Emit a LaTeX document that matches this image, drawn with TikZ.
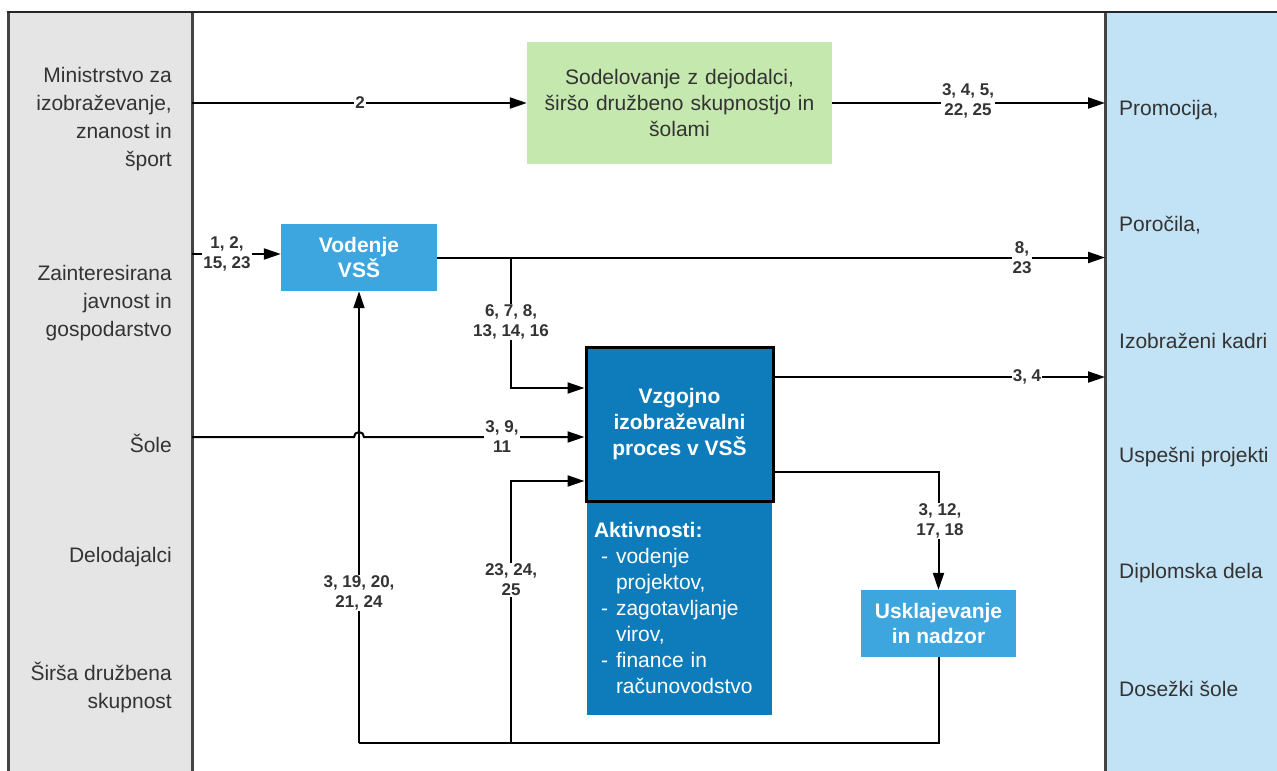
\documentclass[tikz,border=0pt]{standalone}
\usepackage{fontspec}
\setmainfont{Liberation Sans}
\usetikzlibrary{arrows.meta}
\definecolor{txt}{HTML}{333333}
\definecolor{leftgray}{HTML}{E5E5E5}
\definecolor{rightblue}{HTML}{C2E3F5}
\definecolor{lgreen}{HTML}{C5E8AE}
\definecolor{midblue}{HTML}{3EA6DE}
\definecolor{darkblue}{HTML}{0E7CBA}
\definecolor{framegray}{HTML}{444444}
\tikzset{
  sidetxt/.style={text=txt, font=\fontsize{21}{28}\selectfont, inner sep=0pt},
  boxtxt/.style={font=\fontsize{21}{26}\selectfont, align=center, inner sep=0pt},
  lbl/.style={text=txt, font=\fontsize{17}{20}\selectfont\bfseries, fill=white, inner sep=1pt, align=center},
  arr/.style={draw=black, line width=2pt, -{Triangle[length=17pt,width=11pt]}},
  con/.style={draw=black, line width=2pt},
}
\begin{document}
\begin{tikzpicture}[x=1pt,y=-1pt]
\useasboundingbox (0,0) rectangle (1277,771);
% columns
\fill[leftgray] (8,12) rectangle (192,775);
\fill[rightblue] (1105,12) rectangle (1280,775);
\draw[framegray, line width=3pt] (8,775) -- (8,12);
\draw[framegray, line width=3pt] (192,775) -- (192,12);
\draw[framegray, line width=3pt] (1105,775) -- (1105,12);
\draw[black!85, line width=2.5pt] (6.5,12) -- (1280,12);
% left texts
\node[sidetxt, anchor=east, align=right] (t1) at (172,119) {Ministrstvo za\\izobraževanje,\\znanost in\\šport};
\node[sidetxt, anchor=east, align=right] (t2) at (172,303) {Zainteresirana\\javnost in\\gospodarstvo};
\node[sidetxt, anchor=east, align=right] (t3) at (172,443) {Šole};
\node[sidetxt, anchor=east, align=right] (t4) at (172,557) {Delodajalci};
\node[sidetxt, anchor=east, align=right] (t5) at (172,687) {Širša družbena\\skupnost};
% right texts
\node[sidetxt, anchor=west] (r1) at (1119,110) {Promocija,};
\node[sidetxt, anchor=west] (r2) at (1119,225) {Poročila,};
\node[sidetxt, anchor=west] (r3) at (1119,341) {Izobraženi kadri};
\node[sidetxt, anchor=west] (r4) at (1119,457) {Uspešni projekti};
\node[sidetxt, anchor=west] (r5) at (1119,573) {Diplomska dela};
\node[sidetxt, anchor=west] (r6) at (1119,689) {Dosežki šole};
% boxes
\node[boxtxt, fill=lgreen, text=txt, minimum width=305pt, minimum height=122pt, text width=290pt] (coop) at (679.5,103) {Sodelovanje z dejodalci,\\širšo družbeno skupnostjo in\\šolami};
\node[boxtxt, fill=midblue, text=white, font=\fontsize{21}{25}\selectfont\bfseries, minimum width=156pt, minimum height=67pt] (vod) at (359,257.5) {Vodenje\\VSŠ};
\node[fill=darkblue, text=white, font=\fontsize{21}{26}\selectfont, align=left, text width=171pt, inner xsep=7pt, inner ysep=0pt, minimum width=185pt, minimum height=214pt] (akt) at (679.5,608) {\textbf{Aktivnosti:}\\\hspace*{7pt}\makebox[15pt][l]{-}vodenje\\\hspace*{22pt}projektov,\\\hspace*{7pt}\makebox[15pt][l]{-}zagotavljanje\\\hspace*{22pt}virov,\\\hspace*{7pt}\makebox[15pt][l]{-}finance in\\\hspace*{22pt}računovodstvo};
\node[boxtxt, fill=darkblue, draw=black, line width=3pt, text=white, font=\fontsize{21}{26}\selectfont\bfseries, minimum width=187pt, minimum height=154pt] (proc) at (679.5,424) {Vzgojno\\izobraževalni\\proces v VSŠ};
\node[boxtxt, fill=midblue, text=white, font=\fontsize{21}{25}\selectfont\bfseries, minimum width=155pt, minimum height=67pt] (usk) at (938.5,623.5) {Usklajevanje\\in nadzor};
% coordinates
\coordinate (mIn) at (192,103);
\coordinate (pOut) at (1105,103);
\coordinate (zIn) at (192,254);
\coordinate (rOut) at (1105,257.5);
\coordinate (br) at (511,257.5);
\coordinate (brd) at (511,388);
\coordinate (sIn) at (192,437);
\coordinate (jmp) at (354,437);
\coordinate (b1) at (511,743);
\coordinate (b1u) at (511,481);
\coordinate (b0) at (359,743);
\coordinate (bR) at (938.5,743);
\coordinate (kOut) at (1105,377);
\coordinate (p2) at (773,472);
% connectors
\draw[arr] (mIn) -- (coop.west);
\draw[arr] (coop.east) -- (pOut);
\draw[arr] (zIn) -- (vod.west |- zIn);
\draw[arr] (vod.east) -- (rOut);
\draw[arr] (br) -- (brd) -- (proc.west |- brd);
\draw[arr] (sIn) -- (jmp) arc[start angle=180, end angle=360, radius=5] -- (proc.west |- sIn);
\draw[arr] (b1) -- (b1u) -- (proc.west |- b1u);
\draw[arr] (b0) -- (vod.south);
\draw[con] (b0) -- (bR) -- (usk.south);
\draw[arr] (proc.east |- kOut) -- (kOut);
\draw[arr] (p2) -| (usk.north);
% labels
\node[lbl] (l2) at (360,103) {2};
\node[lbl] (l345) at (968,101) {3, 4, 5,\\22, 25};
\node[lbl] (l12) at (227,254) {1, 2,\\15, 23};
\node[lbl] (l823) at (1022,257.5) {8,\\23};
\node[lbl] (l678) at (511,322) {6, 7, 8,\\13, 14, 16};
\node[lbl] (l39) at (502,437) {3, 9,\\11};
\node[lbl] (l2324) at (511,580) {23, 24,\\25};
\node[lbl] (l319) at (359,593) {3, 19, 20,\\21, 24};
\node[lbl] (l34) at (1027,377) {3, 4};
\node[lbl] (l312) at (940,521) {3, 12,\\17, 18};
\end{tikzpicture}
\end{document}
